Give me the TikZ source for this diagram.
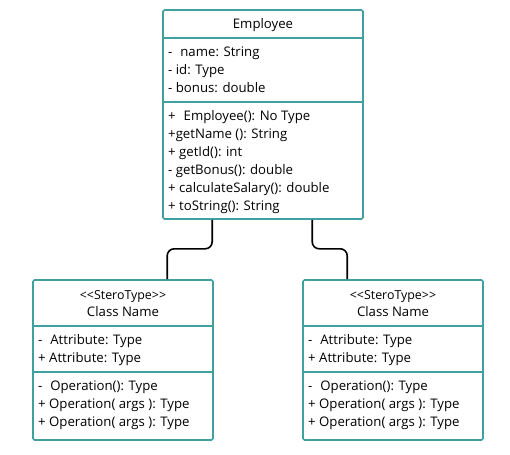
\documentclass[tikz,border=0pt]{standalone}
\usepackage{fontspec}
\setmainfont{Open Sans}
\usetikzlibrary{positioning,calc}
\definecolor{umlteal}{RGB}{64,160,160}

\begin{document}
\begin{tikzpicture}[x=1pt,y=-1pt,font=\fontsize{13.2}{15}\selectfont,
  classbox/.style={draw=umlteal, line width=1.6pt, rounded corners=1.5pt, inner sep=0pt},
  divider/.style={draw=umlteal, line width=1.6pt},
  member/.style={anchor=base west, inner sep=0pt},
  heading/.style={anchor=base, inner sep=0pt},
  link/.style={line width=1.6pt, rounded corners=7pt}]
\useasboundingbox (0,0) rectangle (510,454);
% employee class
\node[classbox, minimum width=200pt, minimum height=209pt] (employee) at (263,114.5) {};
\draw[divider] (163,38) -- (363,38);
\draw[divider] (163,102) -- (363,102);
\node[heading] (emptitle) at (263,28.5) {Employee};
\node[member] (empname)  at (168,56.5)  {-\hspace{0.6em}name: String};
\node[member] (empid)    at (168,74.5)  {- id: Type};
\node[member] (empbonus) at (168,92.5)  {- bonus: double};
\node[member] (empctor)  at (168,120.5) {+\hspace{0.6em}Employee(): No Type};
\node[member] (empgetn)  at (168,138.5) {+getName (): String};
\node[member] (empgeti)  at (168,156.5) {+ getId(): int};
\node[member] (empgetb)  at (168,174.5) {- getBonus(): double};
\node[member] (empcalc)  at (168,192.5) {+ calculateSalary(): double};
\node[member] (empstr)   at (168,210.5) {+ toString(): String};
% generic classes
\foreach \cls/\cx in {leftclass/123, rightclass/393} {
  \node[classbox, minimum width=180pt, minimum height=160pt] (\cls) at (\cx,360) {};
  \draw[divider] (\cx-90,326) -- (\cx+90,326);
  \draw[divider] (\cx-90,372) -- (\cx+90,372);
  \node[heading, font=\fontsize{12.4}{14}\selectfont] (\cls-stereo) at (\cx,299) {{<}{<}SteroType{>}{>}};
  \node[heading] (\cls-title) at (\cx,316.5) {Class Name};
  \node[member] (\cls-attra) at (\cx-85,344.5) {-\hspace{0.6em}Attribute: Type};
  \node[member] (\cls-attrb) at (\cx-85,362.5) {+ Attribute: Type};
  \node[member] (\cls-opa)   at (\cx-85,390.5) {-\hspace{0.6em}Operation(): Type};
  \node[member] (\cls-opb)   at (\cx-85,408.5) {+ Operation( args ): Type};
  \node[member] (\cls-opc)   at (\cx-85,426.5) {+ Operation( args ): Type};
}
% connectors
\draw[link] ($(employee.south west)+(50,0)$) -- ++(0,29) -| ($(leftclass.north west)+(135,0)$);
\draw[link] ($(employee.south west)+(150,0)$) -- ++(0,29) -| ($(rightclass.north west)+(45,0)$);
\end{tikzpicture}
\end{document}
